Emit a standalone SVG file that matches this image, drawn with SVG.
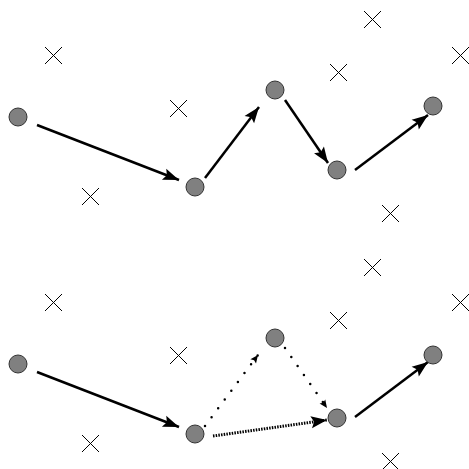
<svg xmlns="http://www.w3.org/2000/svg" width="469" height="469" viewBox="0 0 469 469">
<style>
.node{fill:#808080;stroke:#333;stroke-width:1}
.x{stroke:#000;stroke-width:1;fill:none}
.a{stroke:#000;stroke-width:2.5;fill:none}
.dot{stroke:#000;stroke-width:2.5;fill:none;stroke-dasharray:0 11;stroke-linecap:round}
.dense{stroke:#000;stroke-width:3;fill:none;stroke-dasharray:1.5 1.2}
</style>
<defs>
<marker id="big" markerUnits="userSpaceOnUse" markerWidth="18" markerHeight="14" viewBox="0 0 18 14" refX="17" refY="7" orient="auto"><path d="M1,1 L17,7 L1,13 L4,7 Z" fill="#000"/></marker>
<marker id="small" markerUnits="userSpaceOnUse" markerWidth="10" markerHeight="8" viewBox="0 0 10 8" refX="9" refY="4" orient="auto"><path d="M1,0.5 L9,4 L1,7.5 L2.5,4 Z" fill="#000"/></marker>
<g id="crosses">
<path class="x" d="M45,47l17,17M62,47l-17,17"/>
<path class="x" d="M170,100l17,17M187,100l-17,17"/>
<path class="x" d="M82,188l17,17M99,188l-17,17"/>
<path class="x" d="M364,11l17,17M381,11l-17,17"/>
<path class="x" d="M330,64l17,17M347,64l-17,17"/>
<path class="x" d="M452,47l17,17M469,47l-17,17"/>
<path class="x" d="M382,205l17,17M399,205l-17,17"/>
<path class="x" d="M45,294l17,17M62,294l-17,17"/>
<path class="x" d="M170,347l17,17M187,347l-17,17"/>
<path class="x" d="M82,435l17,17M99,435l-17,17"/>
<path class="x" d="M364,259l17,17M381,259l-17,17"/>
<path class="x" d="M330,312l17,17M347,312l-17,17"/>
<path class="x" d="M452,294l17,17M469,294l-17,17"/>
<path class="x" d="M382,453l17,17M399,453l-17,17"/>
</g>
</defs>
<use href="#crosses"/>
<g id="connectors">
<line class="a" x1="37" y1="125" x2="179" y2="180" marker-end="url(#big)"/>
<line class="a" x1="205" y1="178" x2="259" y2="107" marker-end="url(#big)"/>
<line class="a" x1="285" y1="100" x2="328" y2="163" marker-end="url(#big)"/>
<line class="a" x1="355" y1="170" x2="428" y2="115" marker-end="url(#big)"/>
<line class="a" x1="37" y1="372" x2="179" y2="427" marker-end="url(#big)"/>
<line class="dot" x1="205" y1="426" x2="258" y2="355" marker-end="url(#small)"/>
<line class="dot" x1="285" y1="348" x2="327" y2="408" marker-end="url(#small)"/>
<line class="dense" x1="213" y1="436" x2="327" y2="420" marker-end="url(#big)"/>
<line class="a" x1="355" y1="417" x2="428" y2="362" marker-end="url(#big)"/>
</g>
<g id="n1"><circle class="node" cx="18" cy="117" r="9"/></g>
<g id="n2"><circle class="node" cx="195" cy="187" r="9"/></g>
<g id="n3"><circle class="node" cx="275" cy="90" r="9"/></g>
<g id="n4"><circle class="node" cx="337" cy="170" r="9"/></g>
<g id="n5"><circle class="node" cx="433" cy="106" r="9"/></g>
<g id="n6"><circle class="node" cx="18" cy="364" r="9"/></g>
<g id="n7"><circle class="node" cx="195" cy="434" r="9"/></g>
<g id="n8"><circle class="node" cx="275" cy="338" r="9"/></g>
<g id="n9"><circle class="node" cx="337" cy="418" r="9"/></g>
<g id="n10"><circle class="node" cx="433" cy="355" r="9"/></g>
</svg>
